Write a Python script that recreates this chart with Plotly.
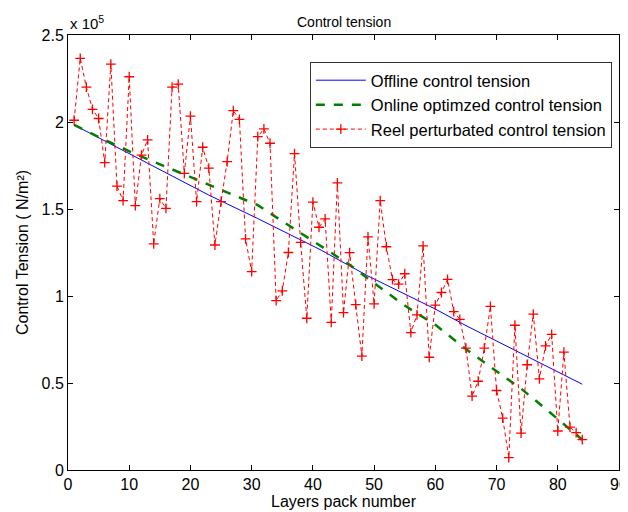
import plotly.graph_objects as go

# Values in units of 1e5 N/m^2
layers = list(range(1, 85))
reel_tension = [
    2.01, 2.366, 2.20, 2.073, 2.02, 1.766, 2.333, 1.632, 1.548, 2.26,
    1.519, 1.81, 1.897, 1.30, 1.56, 1.504, 2.20, 2.218, 1.705, 2.034,
    1.542, 1.855, 1.735, 1.293, 1.542, 1.772, 2.065, 2.015, 1.328, 1.14,
    1.916, 1.96, 1.878, 0.973, 1.03, 1.25, 1.818, 1.308, 0.872, 1.54,
    1.395, 1.443, 0.848, 1.65, 0.904, 1.249, 0.95, 0.655, 1.34, 0.955,
    1.548, 1.283, 1.094, 1.068, 1.128, 0.789, 0.891, 1.288, 0.648, 0.948,
    1.02, 1.096, 0.91, 0.866, 0.70, 0.425, 0.51, 0.70, 0.94, 0.457,
    0.298, 0.071, 0.832, 0.212, 0.605, 0.896, 0.524, 0.713, 0.78, 0.224,
    0.677, 0.246, 0.215, 0.174,
]

offline_x = [1, 16, 23, 31, 41, 49, 55, 60, 65, 84]
offline_tension = [1.983, 1.709, 1.58, 1.445, 1.27, 1.115, 1.012, 0.925, 0.83, 0.493]

online_x = [1, 6, 11, 16, 21, 26, 31, 35, 41, 46, 49, 55, 60, 65, 70, 74, 78, 84]
online_tension = [1.983, 1.897, 1.816, 1.743, 1.666, 1.597, 1.522, 1.43, 1.296, 1.18,
                  1.10, 0.945, 0.834, 0.695, 0.567, 0.468, 0.352, 0.174]

x_ticks = [0, 10, 20, 30, 40, 50, 60, 70, 80, 90]
y_ticks = [0, 0.5, 1, 1.5, 2, 2.5]
y_tick_labels = ["0", "0.5", "1", "1.5", "2", "2.5"]

FONT = "Liberation Sans, Arial, sans-serif"

fig = go.Figure()
fig.add_trace(go.Scatter(
    x=offline_x, y=offline_tension, mode="lines",
    name="Offline control tension",
    line=dict(color="#0000FF", width=1),
))
fig.add_trace(go.Scatter(
    x=online_x, y=online_tension, mode="lines",
    name="Online optimzed control tension",
    line=dict(color="#008000", width=2.5, dash="dash"),
))
fig.add_trace(go.Scatter(
    x=layers, y=reel_tension, mode="lines+markers",
    name="Reel perturbated control tension",
    line=dict(color="#FF0000", width=1, dash="4px,3px"),
    marker=dict(symbol="cross-thin", size=7, line=dict(color="#FF0000", width=1.3), color="#FF0000"),
))

axis_common = dict(
    showline=True, linecolor="black", linewidth=1, mirror="ticks",
    ticks="inside", ticklen=5, tickcolor="black", showgrid=False, zeroline=False,
    tickfont=dict(family=FONT, size=16, color="black"), automargin=False,
)

# The page body adds an 8px offset, so the figure is sized to fill the rest.
fig.update_layout(
    width=620, height=504,
    paper_bgcolor="white", plot_bgcolor="white",
    margin=dict(l=60, r=9, t=27, b=42),
    font=dict(family=FONT, size=16, color="black"),
    showlegend=True,
    legend=dict(
        x=0.987, y=0.938, xanchor="right", yanchor="top",
        bgcolor="white", bordercolor="#333333", borderwidth=1,
        font=dict(family=FONT, size=16.5, color="black"),
        tracegroupgap=0, itemwidth=50,
    ),
    xaxis=dict(range=[0, 90], tickvals=x_ticks, **axis_common,
               title=dict(text="Layers pack number", standoff=0,
                          font=dict(family=FONT, size=16))),
    yaxis=dict(range=[0, 2.5], tickvals=y_ticks, ticktext=y_tick_labels, **axis_common,
               title=dict(text="Control Tension ( N/m²)", standoff=8,
                          font=dict(family=FONT, size=16))),
    annotations=[
        dict(text="Control tension", x=0.5, y=1, xref="paper", yref="paper",
             xanchor="center", yanchor="bottom", yshift=3, showarrow=False,
             font=dict(family=FONT, size=14)),
        dict(text="x 10<sup>5</sup>", x=0, y=1, xref="paper", yref="paper",
             xanchor="left", yanchor="bottom", yshift=1, showarrow=False,
             font=dict(family=FONT, size=15)),
    ],
)

fig.write_html("out.html")
